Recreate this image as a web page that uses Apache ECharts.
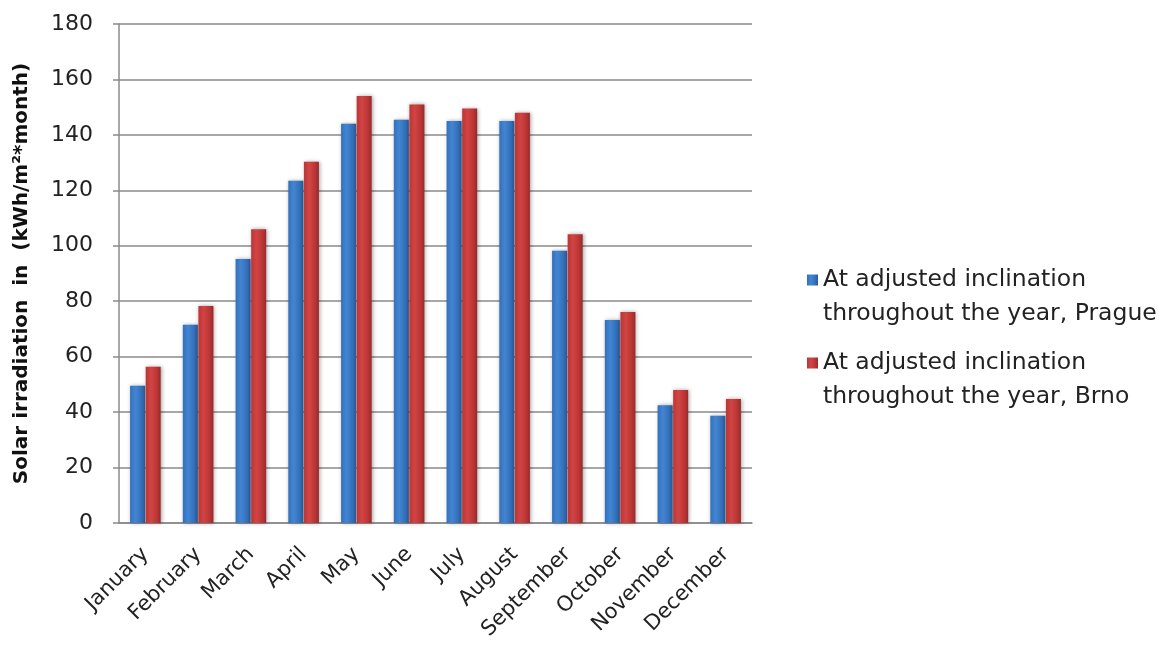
<!DOCTYPE html>
<html>
<head>
<meta charset="utf-8">
<script src="https://cdn.jsdelivr.net/npm/echarts@6/dist/echarts.min.js"></script>
<style>
  html, body { margin: 0; padding: 0; background: #ffffff; }
  #chart { width: 1171px; height: 647px; }
</style>
</head>
<body>
<div id="chart"></div>
<script>
// Monthly solar irradiation on an adjusted inclination, kWh/m² per month
const months = ['January', 'February', 'March', 'April', 'May', 'June',
                'July', 'August', 'September', 'October', 'November', 'December'];
const prague = [49.5, 71.5, 95.2, 123.5, 144, 145.5, 145, 145, 98.2, 73.2, 42.5, 38.7];
const brno   = [56.4, 78.3, 106, 130.3, 154, 151, 149.5, 148, 104.2, 76.1, 48, 44.7];
const seriesNames = [
  'At adjusted inclination\nthroughout the year, Prague',
  'At adjusted inclination\nthroughout the year, Brno'
];
const yTicks = { min: 0, max: 180, interval: 20 };

const font = '"DejaVu Sans", Verdana, sans-serif';

// Legend key: a small square sitting beside the first text line of a two-line entry
const legendIcon = 'path://M0,0h0.01v0.01h-0.01z M0,11.5h11v11h-11z M0,67.99h0.01v0.01h-0.01z';

function barFill(dark, mid, light) {
  return new echarts.graphic.LinearGradient(0, 0, 1, 0, [
    { offset: 0, color: mid },
    { offset: 0.35, color: light },
    { offset: 0.75, color: mid },
    { offset: 1, color: dark }
  ]);
}

const chart = echarts.init(document.getElementById('chart'), null, { renderer: 'canvas' });
chart.setOption({
  backgroundColor: '#ffffff',
  animation: false,
  grid: { left: 119, right: 419, top: 24, bottom: 124, outerBoundsMode: 'none', containLabel: false },
  legend: {
    orient: 'vertical',
    left: 802,
    top: 258,
    itemWidth: 11,
    itemHeight: 68,
    itemGap: 15,
    icon: legendIcon,
    textStyle: { fontFamily: font, fontSize: 23.5, color: '#222', lineHeight: 34 },
    data: seriesNames
  },
  xAxis: {
    type: 'category',
    data: months,
    axisLine: { lineStyle: { color: '#8a8a8a', width: 1.5 } },
    axisTick: { show: false },
    axisLabel: {
      rotate: 45,
      interval: 0,
      fontFamily: font,
      fontSize: 21,
      color: '#222',
      margin: 28
    }
  },
  yAxis: {
    type: 'value',
    min: yTicks.min,
    max: yTicks.max,
    interval: yTicks.interval,
    name: 'Solar irradiation  in  (kWh/m²*month)',
    nameLocation: 'middle',
    nameGap: 87,
    nameTextStyle: { fontFamily: font, fontSize: 20, fontWeight: 'bold', color: '#111' },
    axisLine: { show: true, lineStyle: { color: '#8a8a8a', width: 1.5 } },
    axisTick: { show: true, inside: false, length: 6, lineStyle: { color: '#8a8a8a', width: 1.5 } },
    axisLabel: { fontFamily: font, fontSize: 22, color: '#222', margin: 26 },
    splitLine: { show: true, lineStyle: { color: '#8a8a8a', width: 1.5 } }
  },
  series: [
    {
      name: seriesNames[0],
      type: 'bar',
      data: prague,
      barWidth: 15,
      barGap: '4%',
      itemStyle: {
        color: barFill('#2a5a97', '#3470ba', '#4385d3'),
        shadowColor: 'rgba(0,0,0,0.35)',
        shadowBlur: 4,
        shadowOffsetX: 1
      }
    },
    {
      name: seriesNames[1],
      type: 'bar',
      data: brno,
      barWidth: 15,
      itemStyle: {
        color: barFill('#962a2b', '#bb3535', '#d24444'),
        shadowColor: 'rgba(0,0,0,0.35)',
        shadowBlur: 4,
        shadowOffsetX: 1
      }
    }
  ]
});
</script>
</body>
</html>
